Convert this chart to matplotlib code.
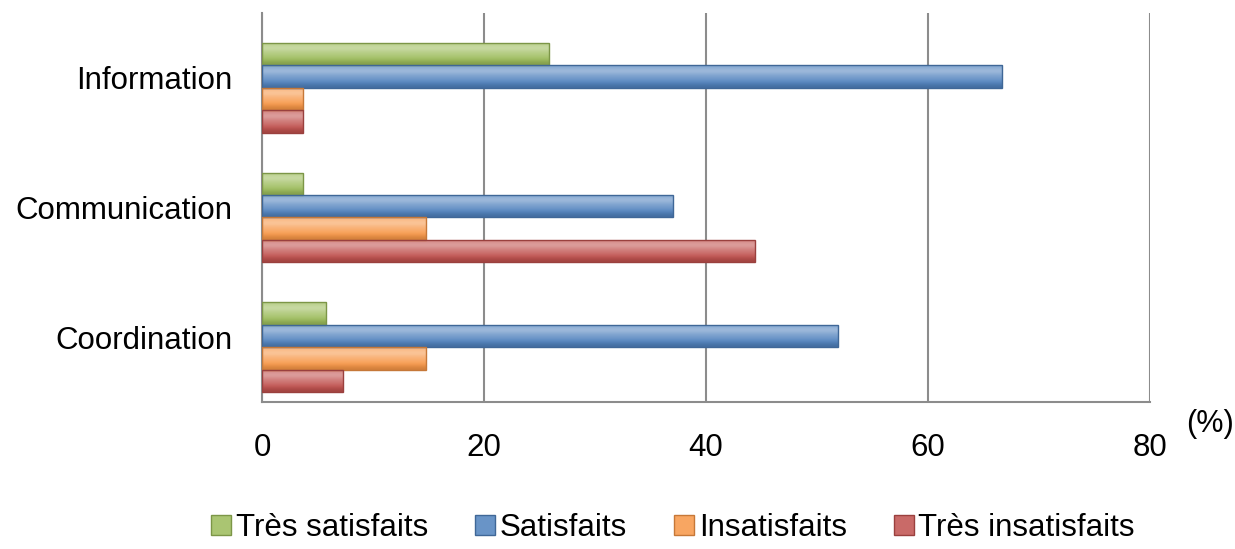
import numpy as np
import matplotlib
matplotlib.use("Agg")
import matplotlib.pyplot as plt
from matplotlib.colors import to_rgb
from matplotlib.patches import Patch

plt.rcParams['font.family'] = ['Liberation Sans', 'DejaVu Sans']

categories = ['Coordination', 'Communication', 'Information']
series = ['Très satisfaits', 'Satisfaits', 'Insatisfaits', 'Très insatisfaits']
tres_satisfaits = [5.8, 3.7, 25.9]
satisfaits = [51.9, 37.0, 66.7]
insatisfaits = [14.8, 14.8, 3.7]
tres_insatisfaits = [7.3, 44.4, 3.7]
values = [tres_satisfaits, satisfaits, insatisfaits, tres_insatisfaits]
colors = ['#9BBB59', '#4F81BD', '#F79646', '#C0504D']
xticks = [0, 20, 40, 60, 80]


def shade(c, f):
    r = np.array(to_rgb(c))
    if f > 0:
        return r + (1 - r) * f
    return r * (1 + f)


fig = plt.figure(figsize=(12.35, 5.49), dpi=100)
ax = fig.add_axes([262 / 1235, 147 / 549, 888 / 1235, 389 / 549])

h = 0.173
shift = -0.077  # bars sit a bit below the category labels in the original
y = np.arange(len(categories))
offsets = [1.5 * h, 0.5 * h, -0.5 * h, -1.5 * h]

for vals, col, off in zip(values, colors, offsets):
    bars = ax.barh(y + off + shift, vals, height=h, color='none',
                   edgecolor=shade(col, -0.2), linewidth=1.0, zorder=3)
    # vertical gradient to mimic the bevel look
    grad = np.array([shade(col, -0.15), shade(col, 0.05), shade(col, 0.2),
                     shade(col, 0.3), shade(col, 0.5), shade(col, 0.3)])
    img = grad.reshape(-1, 1, 3)
    for b in bars:
        x0, y0, w, hh = b.get_x(), b.get_y(), b.get_width(), b.get_height()
        im = ax.imshow(img, extent=[x0, x0 + w, y0, y0 + hh], aspect='auto',
                       origin='lower', interpolation='bicubic', zorder=2.5)
        im.set_clip_path(b)

ax.set_xlim(0, 80)
ax.set_ylim(-0.5, 2.5)
ax.set_xticks(xticks)
ax.set_yticks(y)
ax.set_yticklabels(categories)
ax.tick_params(axis='both', length=0, labelsize=22.5, colors='black')
ax.tick_params(axis='x', pad=22)
ax.tick_params(axis='y', pad=21)
ax.xaxis.grid(True, color='#8C8C8C', linewidth=1.5, zorder=1)
ax.set_axisbelow(True)
for s in ['top', 'right']:
    ax.spines[s].set_visible(False)
for s in ['left', 'bottom']:
    ax.spines[s].set_color('#8C8C8C')
    ax.spines[s].set_linewidth(1.5)

fig.text(1186 / 1235, 1 - 424 / 549, '(%)', fontsize=22, ha='left', va='center')

handles = [Patch(facecolor=shade(c, 0.15), edgecolor=shade(c, -0.2)) for c in colors]
fig.legend(handles, series, loc='center', ncol=4, frameon=False,
           bbox_to_anchor=(0.545, 21 / 549), fontsize=22.5,
           handlelength=0.64, handleheight=0.64, handletextpad=0.15,
           columnspacing=1.5)

fig.savefig('out.png', dpi=100)
